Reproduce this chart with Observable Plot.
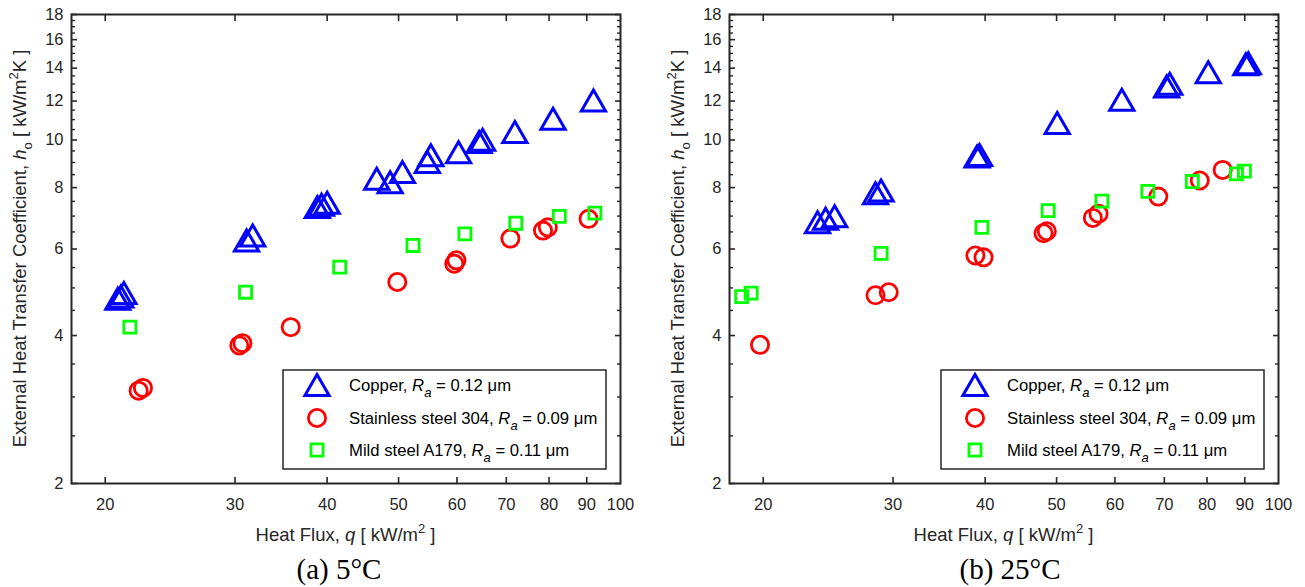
<!DOCTYPE html>
<html><head><meta charset="utf-8">
<script src="https://cdn.jsdelivr.net/npm/d3@7"></script>
<script src="https://cdn.jsdelivr.net/npm/@observablehq/plot@0.6"></script>
<style>
body{margin:0;background:#fff;}
#wrap{position:relative;width:1305px;height:587px;overflow:hidden;background:#fff;}
.panel{position:absolute;top:0;}
.cap{position:absolute;top:553px;font-family:"Liberation Serif",serif;font-size:29px;color:#000;transform:translateX(-50%);white-space:nowrap;}
</style></head><body>
<div id="wrap"></div>
<script>
// ---- categories / legend ----
const materials = ["Copper", "Stainless steel 304", "Mild steel A179"];
const raValues = ["0.12", "0.09", "0.11"];
const captions = ["(a) 5°C", "(b) 25°C"];

// ---- tick values ----
const xTicks = [20, 30, 40, 50, 60, 70, 80, 90, 100];
const yTicks = [2, 4, 6, 8, 10, 12, 14, 16, 18];
const yMinorTicks = [2.5, 3, 3.5, 4.5, 5, 5.5, 6.5, 7, 7.5, 8.5, 9, 9.5, 10.5, 11, 11.5, 12.5, 13, 13.5, 14.5, 15, 15.5, 16.5, 17, 17.5];

// ---- panel (a) 5°C ----
const copperQ_a = [20.8, 21.0, 21.2, 31.1, 31.7, 38.8, 39.3, 40.0, 46.7, 48.7, 50.6, 54.7, 55.3, 60.3, 64.3, 65.0, 71.9, 81.0, 91.9];
const copperH_a = [4.75, 4.80, 4.88, 6.24, 6.39, 7.30, 7.38, 7.45, 8.33, 8.20, 8.60, 9.01, 9.30, 9.44, 9.90, 10.0, 10.37, 11.04, 12.03];
const ssQ_a = [22.2, 22.5, 30.4, 30.7, 35.7, 49.8, 59.5, 59.9, 70.9, 78.5, 79.7, 90.5];
const ssH_a = [3.09, 3.13, 3.82, 3.86, 4.16, 5.14, 5.60, 5.69, 6.30, 6.54, 6.64, 6.91];
const msQ_a = [21.6, 31.0, 41.6, 52.3, 61.5, 72.1, 82.6, 92.3];
const msH_a = [4.16, 4.90, 5.51, 6.10, 6.44, 6.77, 6.99, 7.10];

// ---- panel (b) 25°C ----
const copperQ_b = [23.7, 24.3, 25.0, 28.4, 28.9, 39.0, 39.3, 50.1, 61.3, 70.5, 71.2, 80.3, 90.3, 91.0];
const copperH_b = [6.80, 6.91, 6.99, 7.79, 7.89, 9.25, 9.32, 10.82, 12.07, 12.84, 13.0, 13.73, 14.25, 14.32];
const ssQ_b = [19.8, 28.4, 29.6, 38.8, 39.8, 48.0, 48.5, 56.0, 57.0, 68.7, 78.2, 84.0];
const ssH_b = [3.83, 4.83, 4.90, 5.82, 5.77, 6.46, 6.52, 6.94, 7.08, 7.67, 8.27, 8.69];
const msQ_b = [18.7, 19.26, 28.9, 39.6, 48.7, 57.6, 66.5, 76.4, 87.7, 89.9];
const msH_b = [4.80, 4.88, 5.88, 6.64, 7.18, 7.51, 7.86, 8.23, 8.53, 8.64];

const zip = (Q, H) => Q.map((q, i) => ({q, h: H[i]}));

const styles = [
  {symbol: "triangle", d3sym: d3.symbolTriangle, r: 9, color: "#0000ff", dy: 3.4, sw: 3},
  {symbol: "circle", d3sym: d3.symbolCircle, r: 8.6, color: "#ff0000", dy: 0, sw: 2.8},
  {symbol: "square", d3sym: d3.symbolSquare, r: 6.8, color: "#00ff00", dy: 0, sw: 2.8}
];

const AX = "#262626";
const FONT = "Liberation Sans, Arial, sans-serif";
const TICKFS = 16.5, LABELFS = 18.5, LEGFS = 16.7;

function panel(series, o) {
  const W = o.width, H = 545;
  const mt = 14, mb = 62, ml = o.ml, mr = o.mr;
  const marks = [];
  // tick labels
  marks.push(Plot.text(xTicks, {x: d => d, frameAnchor: "bottom", dy: 21, text: d => String(d), fill: AX, fontSize: TICKFS, lineAnchor: "middle"}));
  marks.push(Plot.text(yTicks, {y: d => d, frameAnchor: "left", dx: -8, textAnchor: "end", text: d => String(d), fill: AX, fontSize: TICKFS, lineAnchor: "middle"}));
  // inward ticks
  for (const anchor of ["bottom", "top"]) {
    marks.push(Plot.axisX(xTicks.filter(d => d < 100), {anchor, tickSize: -6, tickFormat: () => "", label: null, stroke: AX, strokeWidth: 1.6}));
  }
  for (const anchor of ["left", "right"]) {
    marks.push(Plot.axisY(yTicks, {anchor, tickSize: -6, tickFormat: () => "", label: null, stroke: AX, strokeWidth: 1.6}));
    marks.push(Plot.axisY(yMinorTicks, {anchor, tickSize: -4, tickFormat: () => "", label: null, stroke: AX, strokeWidth: 1.4}));
  }
  series.forEach((s, i) => {
    const st = styles[i];
    marks.push(Plot.dot(s, {x: "q", y: "h", symbol: st.symbol, r: st.r, stroke: st.color, strokeWidth: st.sw, fill: "none", dy: st.dy}));
  });
  marks.push(Plot.frame({stroke: AX, strokeWidth: 2}));

  const chart = Plot.plot({
    width: W, height: H,
    marginTop: mt, marginBottom: mb, marginLeft: ml, marginRight: mr,
    style: {fontFamily: FONT, fontSize: "16px", background: "transparent"},
    x: {type: "log", domain: [18, 100], axis: null},
    y: {type: "log", domain: [2, 18], axis: null},
    marks
  });

  const svg = d3.select(chart);
  const fx0 = ml, fx1 = W - mr, fy0 = mt, fy1 = H - mb;

  // x label
  const xl = svg.append("text").attr("x", (fx0 + fx1) / 2).attr("y", 541)
    .attr("text-anchor", "middle").attr("font-family", FONT).attr("font-size", LABELFS).attr("fill", AX);
  xl.append("tspan").text("Heat Flux, ");
  xl.append("tspan").attr("font-style", "italic").text("q");
  xl.append("tspan").text(" [ kW/m");
  xl.append("tspan").attr("font-size", 13).attr("dy", -8).text("2");
  xl.append("tspan").attr("dy", 8).text(" ]");

  // y label
  const yl = svg.append("text").attr("transform", `translate(${fx0 - 45},${(fy0 + fy1) / 2}) rotate(-90)`)
    .attr("text-anchor", "middle").attr("font-family", FONT).attr("font-size", LABELFS).attr("fill", AX);
  yl.append("tspan").text("External Heat Transfer Coefficient, ");
  yl.append("tspan").attr("font-style", "italic").text("h");
  yl.append("tspan").attr("font-size", 13).attr("dy", 6).text("o");
  yl.append("tspan").attr("dy", -6).text(" [ kW/m");
  yl.append("tspan").attr("font-size", 13).attr("dy", -8).text("2");
  yl.append("tspan").attr("dy", 8).text("K ]");

  // legend
  const bw = 323, bh = 99;
  const bx = fx1 - 14 - bw, by = 370;
  const g = svg.append("g");
  g.append("rect").attr("x", bx).attr("y", by).attr("width", bw).attr("height", bh)
    .attr("fill", "#fff").attr("stroke", AX).attr("stroke-width", 1.5);
  const rows = [15, 48, 80];
  materials.forEach((m, i) => {
    const st = styles[i];
    g.append("path").attr("d", d3.symbol(st.d3sym, st.r * st.r * Math.PI)())
      .attr("transform", `translate(${bx + 34},${by + rows[i] + st.dy})`)
      .attr("fill", "none").attr("stroke", st.color).attr("stroke-width", st.sw);
    const t = g.append("text").attr("x", bx + 66).attr("y", by + rows[i] + 6)
      .attr("text-anchor", "start")
      .attr("font-family", FONT).attr("font-size", LEGFS).attr("fill", "#000");
    t.append("tspan").text(m + ", ");
    t.append("tspan").attr("font-style", "italic").text("R");
    t.append("tspan").attr("font-style", "italic").attr("font-size", 13).attr("dy", 6).text("a");
    t.append("tspan").attr("dy", -6).text(" = " + raValues[i] + " μm");
  });
  return chart;
}

const wrap = document.getElementById("wrap");
const pa = panel([zip(copperQ_a, copperH_a), zip(ssQ_a, ssH_a), zip(msQ_a, msH_a)], {width: 652, ml: 71, mr: 32});
pa.classList.add("panel"); pa.style.left = "0px";
wrap.appendChild(pa);
const pb = panel([zip(copperQ_b, copperH_b), zip(ssQ_b, ssH_b), zip(msQ_b, msH_b)], {width: 653, ml: 77, mr: 27});
pb.classList.add("panel"); pb.style.left = "652px";
wrap.appendChild(pb);

const capX = [339, 1010];
captions.forEach((c, i) => {
  const d = document.createElement("div");
  d.className = "cap"; d.textContent = c; d.style.left = capX[i] + "px";
  wrap.appendChild(d);
});
</script>
</body></html>
